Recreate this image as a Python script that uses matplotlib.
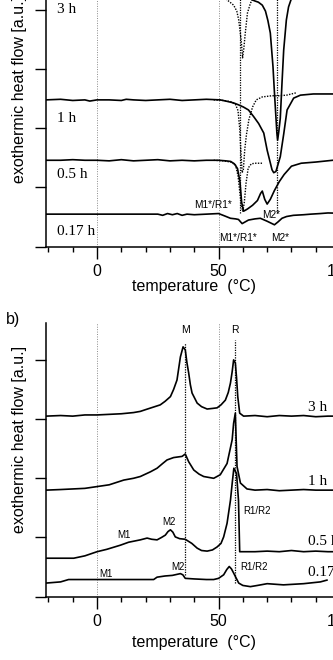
import numpy as np
import matplotlib
matplotlib.use("Agg")
import matplotlib.pyplot as plt
from matplotlib.ticker import MultipleLocator, FixedLocator

plt.rcParams.update({
    "font.family": "sans-serif",
    "font.sans-serif": ["Liberation Sans", "DejaVu Sans"],
    "axes.linewidth": 1.1,
})

SERIF = ["Liberation Serif", "DejaVu Serif"]
LW = 1.2

# ---------------- panel a) : heating scans (endothermic dips) ----------------
a_3h_T = [-21, 20, 50, 60, 62, 63.8, 65, 66.4, 68, 69.3, 70.3, 71.3, 72.4, 73.0, 73.5,
          74.0, 74.3, 74.8, 75.4, 76.1, 76.8, 77.9, 78.8, 79.8, 81, 83, 90, 105]
a_3h_y = [4.26, 4.27, 4.26, 4.26, 4.24, 4.17, 4.15, 4.13, 4.08, 3.98, 3.82, 3.61, 3.04, 2.60, 2.26,
          1.92, 1.80, 1.95, 2.17, 2.76, 3.32, 3.83, 4.05, 4.17, 4.24, 4.27, 4.28, 4.28]
a_3h_dot_T = [50, 53.5, 56.2, 57.5, 58.3, 59.3, 59.9, 60.4, 61.0, 61.9, 63.1, 63.8, 65, 70]
a_3h_dot_y = [4.26, 4.17, 4.08, 3.98, 3.83, 3.49, 3.19, 3.35, 3.61, 3.95, 4.11, 4.17, 4.22, 4.25]

a_1h_T = [-21, -15, -10, -5, -3, 0, 5, 10, 12, 15, 20, 25, 30, 35, 40, 45, 50.7, 53,
          56.1, 58, 60.2, 62.3, 64.4, 66.5, 68.6, 70.0, 72.0, 72.7, 73.6, 75.4, 76.8,
          78.2, 80.9, 83.7, 89, 97, 105]
a_1h_y = [2.48, 2.49, 2.47, 2.48, 2.46, 2.48, 2.48, 2.47, 2.49, 2.48, 2.47, 2.48, 2.49, 2.47,
          2.48, 2.49, 2.48, 2.46, 2.43, 2.40, 2.36, 2.31, 2.20, 2.08, 1.92, 1.63, 1.30,
          1.25, 1.27, 1.52, 1.90, 2.31, 2.51, 2.56, 2.58, 2.58, 2.58]
a_1h_dot_T = [48, 52, 55, 57, 58, 58.7, 59.2, 59.7, 60.2, 60.8, 61.5, 62.5, 64, 65.5, 68,
              72, 75, 78, 82]
a_1h_dot_y = [2.48, 2.47, 2.45, 2.40, 2.30, 2.00, 1.60, 1.25, 1.30, 1.65, 1.90, 2.15, 2.36,
              2.48, 2.53, 2.55, 2.55, 2.56, 2.60]

a_05h_T = [-21, -15, -10, -5, 0, 5, 10, 15, 20, 25, 30, 35, 40, 45, 50, 53, 55, 56.5, 57.8,
           58.8, 59.5, 60.3, 61.2, 62, 64, 66, 67.3, 68, 69, 70, 71.3, 73, 75, 77, 80, 84,
           90, 97, 105]
a_05h_y = [1.46, 1.46, 1.47, 1.46, 1.46, 1.45, 1.47, 1.45, 1.46, 1.47, 1.45, 1.46, 1.45, 1.46,
           1.46, 1.45, 1.44, 1.40, 1.32, 1.10, 0.75, 0.60, 0.62, 0.64, 0.70, 0.78, 0.90, 0.94,
           0.80, 0.72, 0.80, 0.95, 1.10, 1.22, 1.36, 1.41, 1.43, 1.46, 1.46]
a_05h_dot_T = [48, 52, 55, 57, 58, 58.8, 59.4, 60, 60.6, 61.3, 62.2, 63.5, 65, 68]
a_05h_dot_y = [1.46, 1.45, 1.43, 1.38, 1.20, 0.90, 0.68, 0.60, 0.75, 1.07, 1.33, 1.40, 1.41, 1.41]

a_017h_T = [-21, -10, 0, 10, 20, 25, 27, 29, 31, 33, 35, 37, 40, 45, 50, 52.5, 54.9, 57, 58.2,
            59.7, 61, 62.3, 65, 67.2, 70, 72, 73, 74.5, 76.1, 78, 80.8, 85, 88, 91.9, 95, 105]
a_017h_y = [0.55, 0.55, 0.55, 0.55, 0.55, 0.55, 0.53, 0.56, 0.54, 0.56, 0.53, 0.55, 0.54, 0.55,
            0.56, 0.52, 0.48, 0.47, 0.46, 0.39, 0.42, 0.45, 0.47, 0.48, 0.43, 0.39, 0.37, 0.42,
            0.48, 0.51, 0.53, 0.54, 0.55, 0.56, 0.57, 0.56]

a_marker_T = [59, 74]
a_labels = ["3 h", "1 h", "0.5 h", "0.17 h"]
a_label_y = [3.95, 2.10, 1.16, 0.19]

# ---------------- panel b) : cooling scans (exothermic peaks) ----------------
b_3h_T = [-21, -15, -10, -5, 0, 5, 10, 15, 17.8, 20, 23, 26, 28, 30.2, 31.5, 32.9, 34.3, 35.4,
          36.3, 37, 37.7, 38.4, 39.1, 41.2, 43, 45.3, 47.5, 49.4, 51, 52.8, 54, 54.9, 55.6,
          56.2, 56.9, 57.4, 57.9, 58.7, 60.3, 65, 70, 75, 80, 85, 90, 95, 105]
b_3h_y = [3.05, 3.06, 3.05, 3.07, 3.07, 3.08, 3.09, 3.11, 3.13, 3.16, 3.20, 3.24, 3.30, 3.38,
          3.50, 3.66, 4.05, 4.22, 4.17, 3.95, 3.78, 3.58, 3.44, 3.27, 3.21, 3.17, 3.18, 3.19,
          3.24, 3.32, 3.45, 3.61, 3.80, 4.00, 3.95, 3.70, 3.38, 3.10, 3.05, 3.06, 3.04, 3.06,
          3.05, 3.06, 3.04, 3.05, 3.05]

b_1h_T = [-21, -15, -10, -5, 0, 5, 11, 15, 17.8, 22, 24.7, 27, 28.8, 31.5, 35, 36.3, 37.7,
          39.8, 42, 43.9, 48, 50.7, 53.5, 55.6, 56.2, 56.9, 57.6, 59, 61.7, 65, 70, 75, 80,
          85, 90, 95, 105]
b_1h_y = [1.80, 1.81, 1.82, 1.83, 1.86, 1.89, 1.97, 2.00, 2.03, 2.11, 2.17, 2.25, 2.31, 2.35,
          2.37, 2.41, 2.28, 2.14, 2.07, 2.03, 2.00, 2.06, 2.25, 2.65, 2.93, 3.10, 2.20, 1.92,
          1.82, 1.80, 1.81, 1.79, 1.80, 1.81, 1.80, 1.80, 1.80]

b_05h_T = [-21, -15, -9.6, -5, 0, 4, 9.6, 13, 17.8, 20.6, 22.5, 24.7, 26.5, 28.1, 29.2, 30.2,
           31.2, 32.2, 34, 36.3, 39, 41.2, 43, 45.3, 47.5, 49.4, 51, 52.1, 53.5, 54.9, 55.7,
           56.3, 57.4, 58.2, 58.7, 60, 65, 70, 75, 80, 85, 90, 95, 105]
b_05h_y = [0.65, 0.65, 0.65, 0.69, 0.76, 0.80, 0.87, 0.92, 0.96, 0.99, 0.97, 0.96, 1.00, 1.04,
           1.10, 1.13, 1.09, 1.01, 0.98, 0.97, 0.90, 0.82, 0.78, 0.77, 0.79, 0.84, 0.90, 1.01,
           1.24, 1.63, 1.95, 2.17, 2.08, 1.63, 0.76, 0.76, 0.76, 0.77, 0.76, 0.78, 0.76, 0.77,
           0.76, 0.76]

b_017h_T = [-21, -15, -11.7, -8, 0, 10, 20, 23.3, 24.7, 28, 31, 34.3, 35.3, 36.3, 40, 45, 48,
            50, 52.1, 53.4, 54.4, 55.3, 56.2, 57.3, 58.3, 60, 63.1, 66, 70, 76.7, 85, 91.9, 94.6]
b_017h_y = [0.23, 0.25, 0.29, 0.29, 0.29, 0.29, 0.29, 0.29, 0.33, 0.35, 0.36, 0.39, 0.37, 0.31,
            0.30, 0.29, 0.29, 0.31, 0.37, 0.46, 0.51, 0.47, 0.40, 0.31, 0.23, 0.19, 0.17, 0.19,
            0.22, 0.20, 0.22, 0.25, 0.28]

b_marker_T = [36.0, 56.9]
b_marker_top = [4.28, 4.34]
b_marker_bot = [0.37, 0.23]
b_labels = ["3 h", "1 h", "0.5 h", "0.17 h"]
b_label_y = [3.14, 1.89, 0.87, 0.35]

X_TICKS = [0, 50, 100]
X_TICKLABELS = ["0", "50", "100"]

fig = plt.figure(figsize=(3.33, 6.6), dpi=100)
W, H = 333.0, 660.0


def style_axes(ax, ylim):
    ax.set_xlim(-21, 101)
    ax.set_ylim(*ylim)
    for s in ["top", "right"]:
        ax.spines[s].set_visible(False)
    ax.xaxis.set_major_locator(FixedLocator(X_TICKS))
    ax.set_xticklabels(X_TICKLABELS, fontsize=11.5)
    ax.xaxis.set_minor_locator(MultipleLocator(10))
    ax.yaxis.set_major_locator(MultipleLocator(1))
    ax.set_yticklabels([])
    ax.tick_params(axis="x", which="major", direction="out", length=8.5, width=1.0, pad=4)
    ax.tick_params(axis="x", which="minor", direction="out", length=3.5, width=1.0)
    ax.tick_params(axis="y", which="major", direction="out", length=8, width=1.0)
    for t in [0, 50]:
        ax.axvline(t, color="#8a8a8a", lw=0.7, ls=(0, (1, 1.5)), zorder=1)


# panel a
ax_a = fig.add_axes([46 / W, 413.3 / H, 296.5 / W, 266.7 / H])
style_axes(ax_a, (0, 4.505))
for T, y in [(a_3h_T, a_3h_y), (a_1h_T, a_1h_y), (a_05h_T, a_05h_y), (a_017h_T, a_017h_y)]:
    ax_a.plot(T, y, "-", color="black", lw=LW, zorder=3)
for T, y in [(a_3h_dot_T, a_3h_dot_y), (a_1h_dot_T, a_1h_dot_y), (a_05h_dot_T, a_05h_dot_y)]:
    ax_a.plot(T, y, color="black", lw=1.0, ls=(0, (1, 1)), zorder=3)
for t in a_marker_T:
    ax_a.plot([t, t], [0.57, 4.505], color="black", lw=0.9, ls=(0, (1, 1)), zorder=2)
for lab, y in zip(a_labels, a_label_y):
    ax_a.text(-16.5, y, lab, family=SERIF, fontsize=11, ha="left", va="baseline")
ax_a.text(47.7, 0.70, "M1*/R1*", fontsize=7.3, ha="center", va="center")
ax_a.text(71.8, 0.53, "M2*", fontsize=7.3, ha="center", va="center")
ax_a.text(58.1, 0.155, "M1*/R1*", fontsize=7.3, ha="center", va="center")
ax_a.text(75.5, 0.155, "M2*", fontsize=7.3, ha="center", va="center")
ax_a.set_xlabel("temperature  (°C)", fontsize=11.5, labelpad=0)

# panel b
ax_b = fig.add_axes([46 / W, 63.3 / H, 296.5 / W, 273.7 / H])
style_axes(ax_b, (0, 4.623))
for T, y in [(b_3h_T, b_3h_y), (b_1h_T, b_1h_y), (b_05h_T, b_05h_y), (b_017h_T, b_017h_y)]:
    ax_b.plot(T, y, "-", color="black", lw=LW, zorder=3)
for t, y0, y1 in zip(b_marker_T, b_marker_bot, b_marker_top):
    ax_b.plot([t, t], [y0, y1], color="black", lw=0.9, ls=(0, (1, 1)), zorder=2)
for lab, y in zip(b_labels, b_label_y):
    ax_b.text(86.6, y, lab, family=SERIF, fontsize=11, ha="left", va="baseline")
ax_b.text(36.4, 4.50, "M", fontsize=7.5, ha="center", va="center")
ax_b.text(56.9, 4.50, "R", fontsize=7.5, ha="center", va="center")
ax_b.text(65.7, 1.44, "R1/R2", fontsize=7, ha="center", va="center")
ax_b.text(64.4, 0.51, "R1/R2", fontsize=7, ha="center", va="center")
ax_b.text(29.7, 1.27, "M2", fontsize=7, ha="center", va="center")
ax_b.text(10.9, 1.04, "M1", fontsize=7, ha="center", va="center")
ax_b.text(33.2, 0.51, "M2", fontsize=7, ha="center", va="center")
ax_b.text(3.8, 0.375, "M1", fontsize=7, ha="center", va="center")
ax_b.set_xlabel("temperature  (°C)", fontsize=11.5, labelpad=4)

# y labels and panel letter
fig.text(20 / W, 1 - 183 / H, "exothermic heat flow [a.u.]", rotation=90,
         fontsize=11.5, ha="center", va="bottom")
fig.text(20 / W, 1 - 533 / H, "exothermic heat flow [a.u.]", rotation=90,
         fontsize=11.5, ha="center", va="bottom")
fig.text(13 / W, 1 - 319 / H, "b)", fontsize=11.5, ha="center", va="center")

fig.savefig("out.png", dpi=100)
